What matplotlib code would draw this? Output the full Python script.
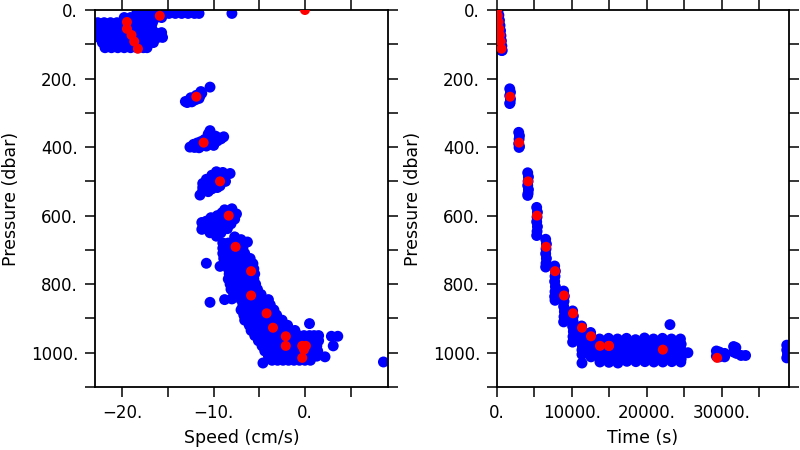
import numpy as np
import matplotlib
matplotlib.use("Agg")
import matplotlib.pyplot as plt
from matplotlib.ticker import MultipleLocator, FuncFormatter

# ---- blue samples, left panel: (speed cm/s, pressure dbar), cluster by cluster
surface_blob = [
    (-18.4, 6), (-17.7, 6), (-17.0, 6), (-16.3, 6),
    (-15.6, 10), (-14.9, 10), (-14.2, 10), (-13.5, 10), (-12.8, 10), (-12.1, 10), (-11.6, 10), (-8.0, 10),
    (-19.8, 22), (-19.1, 22), (-18.4, 22), (-17.7, 22), (-17.0, 22), (-16.3, 22), (-15.7, 22),
    (-23.4, 37), (-22.7, 37), (-22.0, 37), (-21.3, 37), (-20.6, 37), (-19.9, 37), (-19.2, 37),
    (-18.5, 37), (-17.8, 37), (-17.1, 37), (-16.7, 37),
    (-23.1, 52), (-22.4, 52), (-21.7, 52), (-21.0, 52), (-20.3, 52), (-19.6, 52), (-18.9, 52),
    (-18.2, 52), (-17.5, 52), (-16.8, 52),
    (-23.4, 66), (-22.7, 66), (-22.0, 66), (-21.3, 66), (-20.6, 66), (-19.9, 66), (-19.2, 66),
    (-18.5, 66), (-17.8, 66), (-17.1, 66), (-16.4, 66), (-15.7, 66),
    (-23.1, 80), (-22.4, 80), (-21.7, 80), (-21.0, 80), (-20.3, 80), (-19.6, 80), (-18.9, 80),
    (-18.2, 80), (-17.5, 80), (-16.8, 80), (-16.1, 80), (-15.6, 80),
    (-22.2, 95), (-21.5, 95), (-20.8, 95), (-20.1, 95), (-19.4, 95), (-18.7, 95), (-18.0, 95),
    (-17.3, 95), (-16.6, 95),
    (-21.9, 110), (-21.2, 110), (-20.5, 110), (-19.8, 110), (-19.1, 110), (-18.4, 110), (-17.7, 110), (-17.3, 110),
]
blob_250 = [
    (-13.1, 267), (-12.7, 263), (-12.3, 259), (-11.9, 255), (-11.5, 250), (-11.3, 243), (-12.9, 270),
    (-12.4, 268), (-12.0, 262), (-11.6, 258), (-12.5, 256), (-11.9, 249), (-11.4, 238), (-10.4, 225),
]
blob_380 = [
    (-12.6, 400), (-12.1, 401), (-11.6, 402), (-11.3, 396), (-10.8, 397), (-10.4, 392), (-10.0, 388),
    (-9.6, 382), (-9.2, 376), (-8.9, 370), (-12.2, 392), (-11.8, 388), (-11.4, 384), (-11.0, 378),
    (-10.6, 374), (-10.2, 370), (-9.8, 368), (-10.4, 352), (-10.6, 362), (-9.6, 372), (-10.0, 395), (-11.6, 392),
]
blob_500 = [
    (-9.7, 472), (-9.0, 474), (-8.2, 477), (-10.2, 482), (-9.5, 484), (-8.8, 488), (-10.8, 494),
    (-10.1, 496), (-9.4, 498), (-8.7, 500), (-11.2, 506), (-10.6, 508), (-9.9, 510), (-9.3, 513),
    (-11.2, 518), (-10.9, 520), (-10.2, 522), (-9.6, 518), (-11.2, 528), (-10.6, 530), (-11.5, 540),
]
blob_600 = [
    (-8.0, 580), (-8.8, 583), (-7.5, 595), (-8.3, 598), (-9.1, 592), (-9.6, 600), (-10.3, 606),
    (-7.7, 610), (-8.5, 612), (-9.3, 612), (-10.0, 615), (-10.8, 616), (-8.1, 624), (-8.9, 626),
    (-9.7, 628), (-10.5, 628), (-11.3, 620), (-8.5, 638), (-9.3, 640), (-10.1, 640), (-10.9, 638),
    (-11.3, 640), (-9.7, 660), (-9.2, 650), (-10.4, 650),
]
deep_band = [
    (-7.7, 662), (-7.0, 670), (-6.3, 677),
    (-9.0, 680), (-8.4, 680), (-7.8, 680), (-7.2, 680),
    (-9.0, 695), (-8.5, 695), (-7.9, 695), (-7.3, 695), (-6.8, 695),
    (-9.0, 710), (-8.4, 710), (-7.8, 710), (-7.2, 710), (-6.6, 710),
    (-8.9, 725), (-8.3, 725), (-7.7, 725), (-7.1, 725), (-6.5, 725), (-6.0, 725),
    (-10.8, 739), (-9.3, 748),
    (-8.6, 740), (-8.0, 740), (-7.4, 740), (-6.8, 740), (-6.2, 740), (-5.7, 740),
    (-8.4, 755), (-7.8, 755), (-7.2, 755), (-6.6, 755), (-6.0, 755), (-5.6, 755),
    (-8.3, 770), (-7.7, 770), (-7.1, 770), (-6.5, 770), (-5.9, 770), (-5.5, 770),
    (-8.4, 785), (-7.8, 785), (-7.2, 785), (-6.6, 785), (-6.0, 785), (-5.6, 785),
    (-8.2, 800), (-7.6, 800), (-7.0, 800), (-6.4, 800), (-5.8, 800), (-5.4, 800),
    (-8.1, 815), (-7.5, 815), (-6.9, 815), (-6.3, 815), (-5.7, 815), (-5.2, 815),
    (-7.8, 830), (-7.2, 830), (-6.6, 830), (-6.0, 830), (-5.4, 830), (-4.8, 830),
    (-8.8, 845), (-8.0, 843), (-10.4, 853),
    (-7.0, 845), (-6.4, 845), (-5.8, 845), (-5.2, 845), (-4.6, 845), (-4.0, 845),
    (-6.8, 860), (-6.2, 860), (-5.6, 860), (-5.0, 860), (-4.4, 860), (-3.8, 860),
    (-7.0, 875), (-6.4, 875), (-5.8, 875), (-5.2, 875), (-4.6, 875), (-4.0, 875), (-3.4, 875),
    (-6.7, 890), (-6.1, 890), (-5.5, 890), (-4.9, 890), (-4.3, 890), (-3.7, 890), (-3.1, 890),
    (-6.6, 905), (-6.0, 905), (-5.4, 905), (-4.8, 905), (-4.2, 905), (-3.6, 905), (-3.0, 905), (-2.5, 905),
    (-6.1, 920), (-5.5, 920), (-4.9, 920), (-4.3, 920), (-3.7, 920), (-3.1, 920), (-2.5, 920), (-1.9, 920), (0.5, 915),
    (-5.9, 935), (-5.3, 935), (-4.7, 935), (-4.1, 935), (-3.5, 935), (-2.9, 935), (-2.3, 935), (-1.7, 935), (-1.1, 935),
    (-5.5, 950), (-4.9, 950), (-4.3, 950), (-3.7, 950), (-3.1, 950), (-2.5, 950), (-1.9, 950), (-1.3, 950),
    (-0.7, 950), (-0.1, 950), (0.5, 950), (1.0, 950), (1.5, 950), (2.9, 952), (3.6, 952),
    (-5.1, 965), (-4.5, 965), (-3.9, 965), (-3.3, 965), (-2.7, 965), (-2.1, 965), (-1.5, 965),
    (-0.9, 965), (-0.3, 965), (0.3, 965), (0.9, 965), (1.5, 965),
    (-4.7, 980), (-4.1, 980), (-3.5, 980), (-2.9, 980), (-2.3, 980), (-1.7, 980), (-1.1, 980),
    (-0.5, 980), (0.1, 980), (0.7, 980), (1.3, 980), (3.1, 980),
    (-4.4, 995), (-3.8, 995), (-3.2, 995), (-2.6, 995), (-2.0, 995), (-1.4, 995), (-0.8, 995),
    (-0.2, 995), (0.4, 995), (1.0, 995), (1.4, 995),
    (-4.0, 1010), (-3.4, 1010), (-2.8, 1010), (-2.2, 1010), (-1.6, 1010), (-1.0, 1010), (-0.4, 1010),
    (0.2, 1010), (0.8, 1010), (1.3, 1010), (2.2, 1012),
    (-3.6, 1022), (-3.0, 1022), (-2.4, 1022), (-1.8, 1022), (-1.2, 1022), (-0.6, 1022), (0.0, 1022), (0.6, 1022),
    (-4.6, 1030), (8.6, 1027),
]

# ---- blue samples, right panel: (time s, pressure dbar)
time_samples = [
    (150, 0), (250, 15), (330, 30), (400, 45), (470, 60), (530, 75), (590, 90), (650, 105), (700, 118), (600, 118),
    (1700, 230), (1800, 240), (1700, 250), (1800, 260), (1750, 270), (1700, 273),
    (2900, 357), (3000, 367), (2950, 377), (2900, 390), (3000, 398), (2950, 401),
    (4100, 475), (4200, 487), (4150, 500), (4100, 512), (4200, 524), (4150, 535), (4100, 541),
    (5300, 576), (5400, 590), (5350, 604), (5300, 618), (5400, 632), (5350, 646), (5300, 658),
    (6500, 669), (6600, 683), (6550, 697), (6500, 711), (6600, 725), (6550, 739), (6500, 750),
    (7700, 747), (7800, 762), (7750, 777), (7700, 792), (7800, 807), (7750, 822), (7700, 836), (7750, 847),
    (8900, 820), (9000, 835), (8950, 850), (8900, 865), (9000, 880), (8950, 895), (8900, 910),
    (10100, 878), (10200, 893), (10150, 908), (10100, 923), (10200, 938), (10150, 953), (10100, 969),
    (11300, 922), (11400, 937), (11350, 952), (11300, 967), (11400, 980), (11350, 992), (11350, 1005), (11350, 1030),
    (12500, 941), (12600, 955), (12550, 970), (12500, 985), (12600, 1000), (12550, 1012),
    (13700, 960), (13800, 975), (13750, 990), (13700, 1005), (13800, 1018), (13750, 1027),
    (14900, 958), (15000, 972), (14950, 988), (14900, 1003), (15000, 1017), (14950, 1028),
    (16100, 960), (16200, 975), (16150, 990), (16100, 1005), (16200, 1018), (16150, 1030),
    (17300, 958), (17400, 973), (17350, 988), (17300, 1003), (17400, 1017), (17350, 1025),
    (18500, 962), (18600, 976), (18550, 990), (18500, 1005), (18600, 1018), (18550, 1026),
    (19700, 957), (19800, 972), (19750, 987), (19700, 1002), (19800, 1016), (19750, 1026),
    (20900, 960), (21000, 975), (20950, 990), (20900, 1005), (21000, 1018), (20950, 1027),
    (22100, 958), (22200, 973), (22150, 988), (22100, 1003), (22200, 1017), (22150, 1027),
    (23300, 960), (23400, 975), (23350, 990), (23300, 1005), (23400, 1018), (23350, 1026),
    (24500, 960), (24600, 975), (24550, 990), (24500, 1005), (24600, 1018), (24550, 1027),
    (23100, 918), (25500, 1000),
    (29300, 995), (29300, 1010), (29700, 998), (29700, 1012), (30400, 1002), (30400, 1012),
    (31600, 982), (31600, 998), (31900, 985), (32000, 1002), (32600, 1008), (33200, 1008),
    (38700, 978), (38700, 992), (38800, 1005), (38700, 1015), (38900, 998),
]

# ---- red samples (same points in both panels)
red_pres = [0, 17, 35, 55, 73, 92, 113, 253, 387, 500, 600, 691, 762, 833, 885, 927, 952, 980, 980, 980, 991, 1015]
red_speed = [0.0, -15.9, -19.5, -19.5, -19.0, -18.7, -18.3, -11.9, -11.1, -9.3, -8.35, -7.6, -5.9, -5.9,
             -4.2, -3.5, -2.1, -2.1, -0.3, 0.1, -0.1, -0.3]
red_time = [0, 100, 200, 300, 400, 500, 600, 1750, 2950, 4150, 5350, 6550, 7750, 8950,
            10150, 11350, 12550, 13750, 14950, 14950, 22150, 29400]

speed_pts = np.array(surface_blob + blob_250 + blob_380 + blob_500 + blob_600 + deep_band)
time_pts = np.array(time_samples)

plt.rcParams['font.family'] = ['DejaVu Sans']


def dot_fmt(v, pos):
    if abs(v) < 1e-9:
        v = 0
    return f"{v:.0f}.".replace("-", "\u2212")


fig = plt.figure(figsize=(8, 4.5), dpi=100)
ax1 = fig.add_axes([95 / 800, 63 / 450, 293 / 800, 377 / 450])
ax2 = fig.add_axes([497 / 800, 63 / 450, 292 / 800, 377 / 450])

ax1.scatter(speed_pts[:, 0], speed_pts[:, 1], s=62, c='blue', edgecolors='none', zorder=2)
ax1.scatter(red_speed, red_pres, s=52, c='red', edgecolors='none', zorder=3)
ax2.scatter(time_pts[:, 0], time_pts[:, 1], s=62, c='blue', edgecolors='none', zorder=2)
ax2.scatter(red_time, red_pres, s=52, c='red', edgecolors='none', zorder=3)

ax1.set_xlim(-23.0, 9.1)
ax1.xaxis.set_major_locator(MultipleLocator(10))
ax1.xaxis.set_minor_locator(MultipleLocator(5))
ax1.set_xlabel("Speed (cm/s)", fontsize=12.5, labelpad=5)

ax2.set_xlim(0, 39000)
ax2.xaxis.set_major_locator(MultipleLocator(10000))
ax2.xaxis.set_minor_locator(MultipleLocator(5000))
ax2.set_xlabel("Time (s)", fontsize=12.5, labelpad=5)

for ax in (ax1, ax2):
    ax.set_ylim(1100, 0)
    ax.yaxis.set_major_locator(MultipleLocator(200))
    ax.yaxis.set_minor_locator(MultipleLocator(100))
    ax.xaxis.set_major_formatter(FuncFormatter(dot_fmt))
    ax.yaxis.set_major_formatter(FuncFormatter(dot_fmt))
    ax.set_ylabel("Pressure (dbar)", fontsize=12.5, labelpad=8)
    ax.tick_params(which='both', direction='out', length=7.2, width=1.1,
                   top=True, right=True, labelsize=12, pad=5)
    for sp in ax.spines.values():
        sp.set_linewidth(1.3)

fig.savefig("out.png", dpi=100)
